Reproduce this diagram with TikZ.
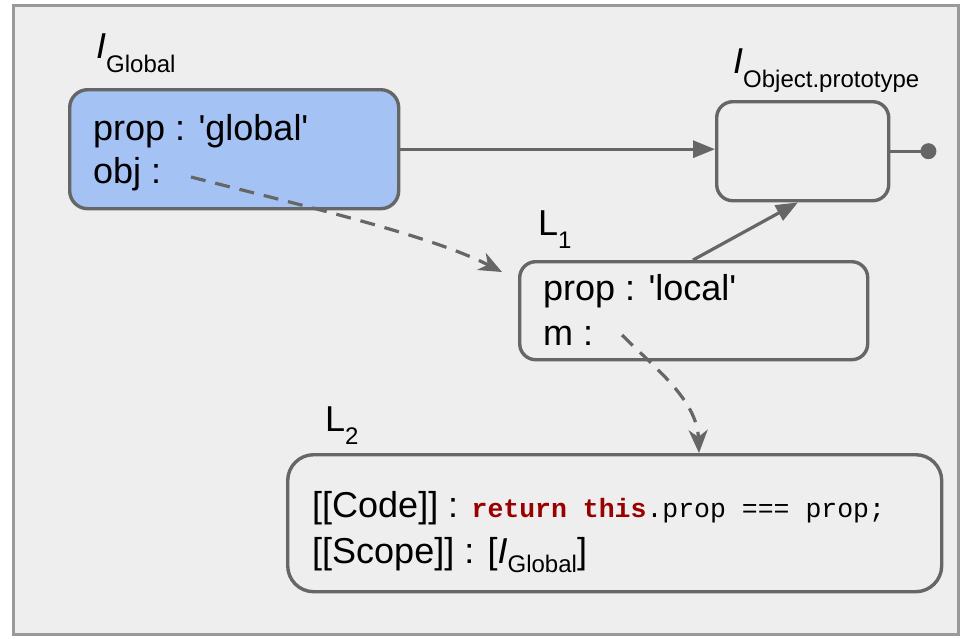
\documentclass[tikz,border=0pt]{standalone}
\usepackage{fontspec}
\setmainfont{Liberation Sans}[Ligatures=TeXOff]
\setmonofont{Liberation Mono}
\usetikzlibrary{arrows.meta,calc}
\definecolor{edgec}{HTML}{666666}
\definecolor{framec}{HTML}{999999}
\definecolor{bgc}{HTML}{EEEEEE}
\definecolor{bluec}{HTML}{A4C2F4}
\definecolor{codec}{HTML}{990000}
\newcommand{\myBig}{\fontsize{36}{43}\selectfont}
\newcommand{\mySub}{\fontsize{24}{24}\selectfont}
\newcommand{\myCode}{\fontsize{26.5}{30}\selectfont\ttfamily}
\tikzset{
  objbox/.style={draw=edgec, line width=3.4pt, rounded corners=18pt, inner sep=0pt, anchor=north west},
  txt/.style={anchor=base west, inner sep=0pt, font=\myBig},
  arr/.style={draw=edgec, line width=3.2pt, -{Triangle[length=22pt,width=17pt]}},
  darr/.style={draw=edgec, line width=3.2pt, dash pattern=on 15pt off 10pt, -{Stealth[length=23pt,width=19pt,inset=7pt]}},
  conn/.style={draw=edgec, line width=3.2pt}
}
\begin{document}
\begin{tikzpicture}[x=1pt,y=-1pt]
\path[use as bounding box] (0,0) rectangle (963,638);
\node[draw=framec, fill=bgc, line width=3.2pt, inner sep=0pt, anchor=north west, minimum width=945pt, minimum height=629pt] (bgframe) at (12,4) {};

% boxes
\node[objbox, fill=bluec, minimum width=329pt, minimum height=119pt] (g) at (68,88) {};
\node[objbox, fill=bgc, rounded corners=16pt, minimum width=172pt, minimum height=99pt] (op) at (715,100) {};
\node[objbox, fill=bgc, rounded corners=16pt, minimum width=348pt, minimum height=98pt] (l1) at (518,260) {};
\node[objbox, fill=bgc, rounded corners=26pt, minimum width=654pt, minimum height=137pt] (l2) at (286,453) {};

% labels
\node[txt] (lg) at (96,58) {\textit{I}\raisebox{-14pt}{\mySub Global}};
\node[txt] (lop) at (733,73) {\textit{I}\raisebox{-14pt}{\mySub Object.prototype}};
\node[txt] (ll1) at (538,235) {L\raisebox{-13pt}{\mySub 1}};
\node[txt] (ll2) at (325,431) {L\raisebox{-13pt}{\mySub 2}};

% texts
\node[txt] (gt1) at (93,140) {prop : 'global'};
\node[txt] (gt2) at (93,183) {obj :};
\node[txt] (l1t1) at (543,300) {prop : 'local'};
\node[txt] (l1t2) at (543,345) {m :};
\node[txt] (l2t1) at (312,517) {[[Code]] : {\myCode\color{codec}\bfseries return this}{\myCode .prop === prop;}};
\node[txt] (l2t2) at (312,563) {[[Scope]] : [\textit{I}\raisebox{-9pt}{\mySub Global}]};

% connectors
\draw[arr] (g.east) -- (g.east -| op.west);
\coordinate (dot) at ($(op.east)+(38,0)$);
\draw[conn] (op.east) -- (dot);
\fill[edgec] (dot) circle (8pt);
\draw[arr] ($(l1.north west)+(175,0)$) -- ($(op.south west)+(83,0)$);

\coordinate (s1) at (191,177);
\coordinate (e1) at ($(l1.north west)+(-16,12)$);
\draw[darr] (s1) .. controls (300,205) and (430,235) .. (e1);

\coordinate (s2) at (622,335);
\coordinate (e2) at ($(l2.north west)+(413,0)$);
\draw[darr] (s2) .. controls (655,368) and (697,400) .. (e2);
\end{tikzpicture}
\end{document}
